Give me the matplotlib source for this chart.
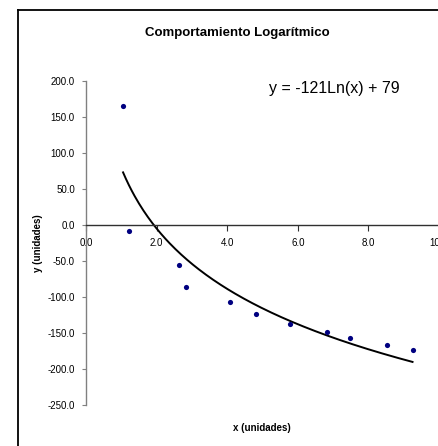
import numpy as np
import matplotlib
matplotlib.use("Agg")
import matplotlib.pyplot as plt
from matplotlib.lines import Line2D

plt.rcParams['font.family'] = ['Liberation Sans', 'DejaVu Sans']

# Data
x_vals = [1.05, 1.21, 2.63, 2.82, 4.09, 4.83, 5.79, 6.84, 7.49, 8.54, 9.25]
y_vals = [165.7, -7.9, -56.0, -86.0, -107.0, -123.0, -137.0, -148.0, -157.0, -166.0, -174.0]

# Logarithmic trendline coefficients shown on the chart
trend_slope = -121
trend_intercept = 79

y_ticks = [-250, -200, -150, -100, -50, 0, 50, 100, 150, 200]
x_ticks = [0, 2, 4, 6, 8, 10]

W, H = 439, 446
fig = plt.figure(figsize=(W / 100, H / 100), dpi=100)

# outer chart border (left and top edges visible only)
fig.add_artist(Line2D([18 / W, 18 / W], [0, (H - 10) / H], color="black", lw=1.3,
                      transform=fig.transFigure))
fig.add_artist(Line2D([18 / W, 1.0], [(H - 10) / H, (H - 10) / H], color="black", lw=1.3,
                      transform=fig.transFigure))

ax = fig.add_axes([86 / W, (H - 405) / H, (W - 86) / W, 324 / H])
ax.set_xlim(0, 10)
ax.set_ylim(-250, 200)

# trendline
xt = np.linspace(min(x_vals), max(x_vals), 200)
ax.plot(xt, trend_slope * np.log(xt) + trend_intercept, color="black", lw=1.4, zorder=2)

# data points
ax.scatter(x_vals, y_vals, s=14, color="#000080", zorder=3, linewidths=0)

# spines
ax.spines["top"].set_visible(False)
ax.spines["right"].set_visible(False)
ax.spines["left"].set_position(("data", 0))
ax.spines["left"].set_color("#808080")
ax.spines["bottom"].set_position(("data", 0))
ax.spines["bottom"].set_color("#303030")
ax.spines["left"].set_linewidth(1.0)
ax.spines["bottom"].set_linewidth(1.0)

ax.set_yticks(y_ticks)
ax.set_yticklabels([f"{v:.1f}" for v in y_ticks])
ax.set_xticks(x_ticks)
ax.set_xticklabels([f"{v:.1f}" for v in x_ticks])
ax.tick_params(axis="y", direction="out", length=3, width=0.8, color="#808080",
               labelsize=7, pad=5)
ax.tick_params(axis="x", direction="out", length=4, width=0.8, color="#303030",
               labelsize=7, pad=5)
ax.set_facecolor("none")

fig.text(237 / W, (H - 33) / H, "Comportamiento Logarítmico", ha="center", va="center",
         fontsize=9.5, fontweight="bold")
fig.text(334 / W, (H - 89) / H, "y = -121Ln(x) + 79", ha="center", va="center",
         fontsize=11.5)
fig.text(262 / W, (H - 428) / H, "x (unidades)", ha="center", va="center",
         fontsize=7, fontweight="bold")
fig.text(38 / W, (H - 243) / H, "y (unidades)", ha="center", va="center",
         fontsize=7, fontweight="bold", rotation=90)

fig.savefig("out.png", dpi=100)
